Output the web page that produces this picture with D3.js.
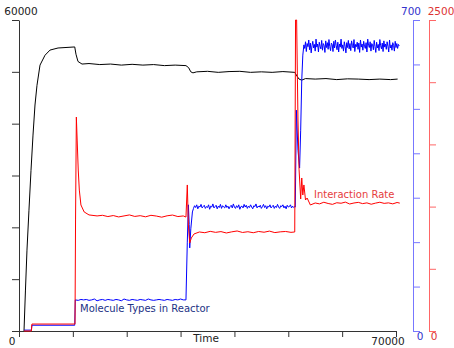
<!DOCTYPE html>
<html>
<head>
<meta charset="utf-8">
<script src="https://cdn.jsdelivr.net/npm/d3@7"></script>
<style>
  body { margin: 0; background: #fff; }
  svg { display: block; font-family: "DejaVu Sans", sans-serif; }
  .line { fill: none; stroke-width: 1; }
</style>
</head>
<body>
<div id="chart"></div>
<script>
// time, value pairs
const blackSeries = [
  [930, 0], [1200, 7900], [1480, 15600], [1850, 23300], [2230, 31000], [2600, 37800],
  [2970, 43600], [3340, 47400], [3900, 51300], [4830, 53200], [5760, 54200], [7250, 54600],
  [10350, 54800], [10580, 53400], [10950, 52000], [11700, 51500], [13000, 51600], [15000, 51400],
  [17000, 51500], [19000, 51300], [21000, 51450], [23000, 51300], [25000, 51400], [27000, 51200],
  [29000, 51300], [31000, 51200], [31500, 50800], [31900, 50000], [32300, 49800], [33000, 50000],
  [35000, 50100], [37000, 49900], [39000, 50050], [41000, 50100], [43000, 49900], [45000, 50000],
  [47000, 49900], [49000, 50050], [51200, 49900], [51600, 49200], [52000, 48600], [52500, 48400],
  [53200, 48700], [55000, 48600], [57000, 48700], [59000, 48500], [61000, 48650], [63000, 48600],
  [65000, 48500], [67000, 48600], [69000, 48500], [70300, 48600]
];

const blueSeries = [
  [930, 2], [2300, 2], [2400, 13], [10350, 13], [10450, 70],
  [11000, 69], [11500, 71], [12000, 70], [12500, 71], [13000, 69], [13500, 70], [14000, 72],
  [14500, 68], [15000, 70], [15500, 71], [16000, 69], [16500, 71], [17000, 70], [17500, 69],
  [18000, 71], [18500, 70], [19000, 68], [19500, 72], [20000, 70], [20500, 69], [21000, 71],
  [21500, 70], [22000, 69], [22500, 71], [23000, 70], [23500, 69], [24000, 72], [24500, 70],
  [25000, 69], [25500, 70], [26000, 71], [26500, 70], [27000, 69], [27500, 71], [28000, 70],
  [28500, 69], [29000, 71], [29500, 70], [30000, 72], [30500, 70], [31000, 70],
  [31250, 200], [31450, 284], [31600, 240], [31700, 187], [31900, 230], [32200, 268],
  [32400, 276], [32600, 282], [32800, 278], [33000, 284], [33200, 275], [33400, 281], [33600, 279], [33800, 285], [34000, 277], [34200, 280],
  [34400, 283], [34600, 276], [34800, 280], [35000, 278], [35200, 284], [35400, 274], [35600, 281], [35800, 279], [36000, 286], [36200, 277],
  [36400, 280], [36600, 283], [36800, 275], [37000, 281], [37200, 278], [37400, 285], [37600, 276], [37800, 282], [38000, 279], [38200, 277],
  [38400, 284], [38600, 278], [38800, 281], [39000, 275], [39200, 280], [39400, 283], [39600, 277], [39800, 286], [40000, 279], [40200, 276],
  [40400, 282], [40600, 278], [40800, 284], [41000, 274], [41200, 280], [41400, 281], [41600, 277], [41800, 285], [42000, 279], [42200, 283],
  [42400, 276], [42600, 281], [42800, 278], [43000, 284], [43200, 279], [43400, 275], [43600, 282], [43800, 280], [44000, 286], [44200, 277],
  [44400, 281], [44600, 279], [44800, 283], [45000, 276], [45200, 280], [45400, 285], [45600, 278], [45800, 282], [46000, 275], [46200, 281],
  [46400, 279], [46600, 284], [46800, 277], [47000, 280], [47200, 283], [47400, 276], [47600, 281], [47800, 278], [48000, 285], [48200, 279],
  [48400, 276], [48600, 282], [48800, 280], [49000, 284], [49200, 277], [49400, 281], [49600, 275], [49800, 283], [50000, 279], [50200, 280],
  [50400, 284], [50600, 277], [50800, 281], [51000, 278], [51200, 280],
  [51300, 279], [51500, 497], [51800, 407], [52100, 367], [52300, 452], [52500, 565], [52700, 621],
  [52900, 644], [53050, 636], [53200, 651], [53350, 629], [53500, 647], [53650, 640], [53800, 655], [53950, 633], [54100, 648], [54250, 626],
  [54400, 642], [54550, 652], [54700, 637], [54850, 645], [55000, 630], [55150, 657], [55300, 639], [55450, 646], [55600, 628], [55750, 650],
  [55900, 641], [56050, 635], [56200, 654], [56350, 632], [56500, 647], [56650, 643], [56800, 627], [56950, 653], [57100, 638], [57250, 649],
  [57400, 634], [57550, 656], [57700, 640], [57850, 631], [58000, 648], [58150, 645], [58300, 629], [58450, 652], [58600, 637], [58750, 655],
  [58900, 642], [59050, 633], [59200, 650], [59350, 628], [59500, 646], [59650, 639], [59800, 657], [59950, 636], [60100, 644], [60250, 630],
  [60400, 651], [60550, 641], [60700, 626], [60850, 649], [61000, 638], [61150, 654], [61300, 635], [61450, 647], [61600, 631], [61750, 653],
  [61900, 643], [62050, 637], [62200, 656], [62350, 629], [62500, 645], [62650, 640], [62800, 650], [62950, 634], [63100, 648], [63250, 627],
  [63400, 655], [63550, 639], [63700, 646], [63850, 632], [64000, 652], [64150, 641], [64300, 636], [64450, 649], [64600, 628], [64750, 657],
  [64900, 643], [65050, 638], [65200, 651], [65350, 630], [65500, 647], [65650, 644], [65800, 633], [65950, 654], [66100, 640], [66250, 627],
  [66400, 650], [66550, 637], [66700, 645], [66850, 631], [67000, 656], [67150, 642], [67300, 635], [67450, 648], [67600, 629], [67750, 653],
  [67900, 639], [68050, 646], [68200, 634], [68350, 651], [68500, 641], [68650, 628], [68800, 655], [68950, 637], [69100, 644], [69250, 632],
  [69400, 649], [69550, 643], [69700, 630], [69850, 652], [70000, 638], [70150, 647], [70300, 636], [70450, 645], [70600, 642]
];

const redSeries = [
  [930, 0], [2300, 0], [2400, 56], [10400, 56], [10500, 900], [10650, 1720], [10800, 1535],
  [11000, 1294], [11200, 1133], [11500, 1013], [12100, 957], [13000, 933], [14500, 925],
  [15500, 930], [16500, 920], [17500, 928], [18500, 917], [19500, 925], [20500, 933], [21500, 921],
  [22500, 927], [23500, 918], [24500, 930], [25500, 924], [26500, 915], [27500, 926], [28500, 932],
  [29500, 920], [30500, 925], [31000, 916], [31250, 1174], [31450, 852], [31700, 707], [32000, 748],
  [32500, 780], [33500, 796], [34500, 790], [35500, 801], [36500, 793], [37500, 799], [38500, 788],
  [39500, 797], [40500, 804], [41500, 792], [42500, 798], [43500, 790], [44500, 800], [45500, 794],
  [46500, 803], [47500, 791], [48500, 797], [49500, 800], [50500, 793], [51200, 796],
  [51350, 2500], [51550, 2500], [51800, 1696], [52000, 1300], [52300, 1061], [52500, 1230],
  [52700, 1093], [52900, 1174], [53200, 1053], [53500, 1069], [54100, 1013], [55000, 1029],
  [55800, 1022], [56600, 1035], [57400, 1025], [58200, 1018], [59000, 1031], [59800, 1027],
  [60600, 1036], [61400, 1021], [62200, 1029], [63000, 1034], [63800, 1024], [64600, 1030],
  [65400, 1019], [66200, 1028], [67000, 1035], [67800, 1026], [68600, 1030], [69400, 1022],
  [70200, 1033], [70700, 1028]
];

const timeTicks = [0, 10000, 20000, 30000, 40000, 50000, 60000, 70000];
const leftTicks = [0, 10000, 20000, 30000, 40000, 50000, 60000];
const blueTicks = [0, 100, 200, 300, 400, 500, 600, 700];
const redTicks = [0, 500, 1000, 1500, 2000, 2500];

const width = 454;
const height = 348;
const plotTop = 20;
const plotBottom = 331;

const svg = d3.select('#chart')
              .append('svg')
              .attr('width', width)
              .attr('height', height);

const x = d3.scaleLinear().domain([0, 70000]).range([19, 396]);
const yLeft = d3.scaleLinear().domain([0, 60000]).range([plotBottom, plotTop]);
const yBlue = d3.scaleLinear().domain([0, 700]).range([plotBottom, plotTop]);
const yRed = d3.scaleLinear().domain([0, 2500]).range([plotBottom, plotTop]);

// axes
svg.append('g')
   .attr('transform', `translate(0, ${plotBottom})`)
   .call(d3.axisBottom(x).tickValues(timeTicks).tickSize(6).tickSizeOuter(0).tickFormat(''))
   .call((g) => g.selectAll('path, line').attr('stroke', '#333'));

svg.append('g')
   .attr('transform', 'translate(19, 0)')
   .call(d3.axisLeft(yLeft).tickValues(leftTicks).tickSize(7).tickSizeOuter(0).tickFormat(''))
   .call((g) => g.selectAll('path, line').attr('stroke', '#333'));

svg.append('g')
   .attr('transform', 'translate(413, 0)')
   .call(d3.axisRight(yBlue).tickValues(blueTicks).tickSize(7).tickSizeOuter(0).tickFormat(''))
   .call((g) => g.selectAll('path, line').attr('stroke', '#7777ff'));

svg.append('g')
   .attr('transform', 'translate(429, 0)')
   .call(d3.axisRight(yRed).tickValues(redTicks).tickSize(7).tickSizeOuter(0).tickFormat(''))
   .call((g) => g.selectAll('path, line').attr('stroke', '#ff6666'));

// lines
const line = (ys) => d3.line().x((d) => x(d[0])).y((d) => ys(d[1]));

svg.append('path').attr('class', 'line').attr('stroke', '#000').attr('d', line(yLeft)(blackSeries));
svg.append('path').attr('class', 'line').attr('stroke', '#0000ff').attr('d', line(yBlue)(blueSeries));
svg.append('path').attr('class', 'line').attr('stroke', '#ff0000').attr('d', line(yRed)(redSeries));

// labels
const label = (txt, px, py, color, anchor) => svg.append('text')
  .attr('x', px).attr('y', py)
  .attr('fill', color)
  .attr('font-size', 10.5)
  .attr('text-anchor', anchor || 'middle')
  .text(txt);

label('60000', 21, 15, '#222');
label('0', 12, 345, '#222');
label('70000', 388, 345, '#222');
label('Time', 206, 342, '#222');
label('700', 411, 15, '#3333cc');
label('2500', 441, 15, '#dd3333');
label('0', 420, 340, '#3333cc');
label('0', 434, 340, '#dd3333');

svg.append('text').attr('x', 80).attr('y', 312).attr('font-size', 10)
   .attr('fill', '#1c3285').text('Molecule Types in Reactor');
svg.append('text').attr('x', 314).attr('y', 198).attr('font-size', 10)
   .attr('fill', '#e63c3c').text('Interaction Rate');
</script>
</body>
</html>
